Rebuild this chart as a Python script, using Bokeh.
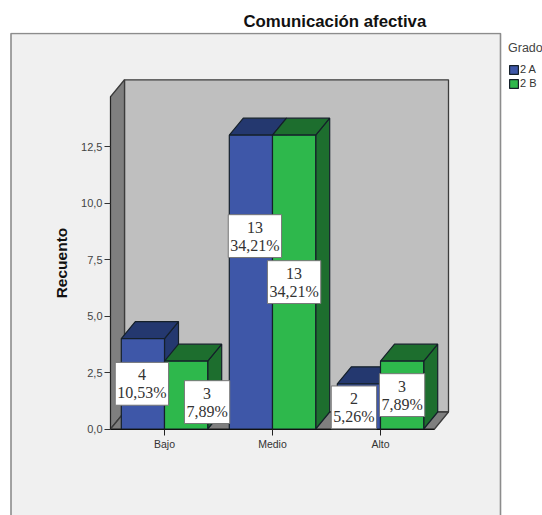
from bokeh.embed import file_html
from bokeh.resources import INLINE
from bokeh.plotting import figure
from bokeh.models import (Range1d, LinearAxis, FixedTicker, Label, Legend, LegendItem, Title)

title_text = "Comunicación afectiva"
y_title = "Recuento"
categories = ["Bajo", "Medio", "Alto"]
legend_title = "Grado"
series_names = ["2 A", "2 B"]
values_a = [4, 13, 2]
values_b = [3, 13, 3]
pct_a = ["10,53%", "34,21%", "5,26%"]
pct_b = ["7,89%", "34,21%", "7,89%"]
y_ticks = [0, 2.5, 5, 7.5, 10, 12.5]
y_tick_labels = ["0,0", "2,5", "5,0", "7,5", "10,0", "12,5"]

FONT = "Liberation Sans"
SERIF = "Liberation Serif"
BLUE, BLUE_D = "#3E57A8", "#24386F"
GREEN, GREEN_D = "#2EB84C", "#1D6E2E"
EDGE = "#15202a"

# page geometry (px)
W, H = 542, 515
TOP = 32
PX_X, PX_Y = 108.0, 22.6          # px per data unit
ORIGIN_X, ORIGIN_Y = 164.0, 428.5   # canvas px of the data origin
DX, DY = 14 / PX_X, 17 / PX_Y     # 3-D depth
BAR = 0.4
Y_TOP = 14.7
X0, X1 = -0.5, 2.5

x_range = Range1d(-ORIGIN_X / PX_X, (W - ORIGIN_X) / PX_X)
y_range = Range1d((ORIGIN_Y - H) / PX_Y, (ORIGIN_Y - TOP) / PX_Y)

p = figure(width=W, height=H, x_range=x_range, y_range=y_range, toolbar_location=None,
           output_backend="svg", x_axis_type=None, y_axis_type=None,
           min_border_left=0, min_border_right=0, min_border_bottom=0, min_border_top=TOP,
           outline_line_color=None, background_fill_color="white", border_fill_color="white")
p.grid.visible = False

p.title = Title(text=title_text, align="left", offset=243, text_font=FONT,
                text_font_size="16.8px", text_font_style="bold", text_color="#111111", standoff=3)

# outer chart box (its bottom runs past the page)
box_l = (10.5 - ORIGIN_X) / PX_X
box_r = (500 - ORIGIN_X) / PX_X
box_t = (ORIGIN_Y - 33) / PX_Y
box_b = (ORIGIN_Y - H - 20) / PX_Y
p.quad(left=[box_l], right=[box_r], top=[box_t], bottom=[box_b],
       fill_color="#F0F0F0", line_color="#8C8C8C", line_width=1.6)

# walls
wall = dict(line_color="#3c3c3c", line_width=1.3)
p.patch([X0 + DX, X1 + DX, X1 + DX, X0 + DX], [DY, DY, Y_TOP + DY, Y_TOP + DY],
        fill_color="#BFBFBF", **wall)
p.patch([X0, X0 + DX, X0 + DX, X0], [0, DY, Y_TOP + DY, Y_TOP],
        fill_color="#7F7F7F", **wall)
p.patch([X0, X1, X1 + DX, X0 + DX], [0, 0, DY, DY], fill_color="#7F7F7F", **wall)

fronts = []
for k, (vals, face, dark) in enumerate([(values_a, BLUE, BLUE_D), (values_b, GREEN, GREEN_D)]):
    lefts = [i - BAR + k * BAR for i in range(len(vals))]
    rights = [l + BAR for l in lefts]
    p.patches([[r, r + DX, r + DX, r] for r in rights],
              [[0, DY, v + DY, v] for v in vals],
              fill_color=dark, line_color=EDGE, line_width=1.2)
    p.patches([[l, r, r + DX, l + DX] for l, r in zip(lefts, rights)],
              [[v, v, v + DY, v + DY] for v in vals],
              fill_color=dark, line_color=EDGE, line_width=1.2)
    fronts.append(p.quad(left=lefts, right=rights, top=vals, bottom=[0] * len(vals),
                         fill_color=face, line_color=EDGE, line_width=1.2))

# axes
yaxis = LinearAxis(fixed_location=X0, ticker=FixedTicker(ticks=y_ticks), axis_label=y_title,
                   bounds=(0, Y_TOP),
                   major_label_overrides={t: s for t, s in zip(y_ticks, y_tick_labels)},
                   major_label_text_font=FONT, major_label_text_font_size="11px",
                   major_label_text_color="#444444", major_label_standoff=2,
                   axis_label_text_font=FONT, axis_label_text_font_size="15.5px",
                   axis_label_text_font_style="bold", axis_label_text_color="#111111",
                   axis_label_standoff=8,
                   major_tick_out=6, major_tick_in=0, minor_tick_out=0, minor_tick_in=0,
                   major_tick_line_color="#333333", axis_line_color="#222222")
p.add_layout(yaxis, "left")
xaxis = LinearAxis(fixed_location=0, ticker=FixedTicker(ticks=[0, 1, 2]), bounds=(X0, X1),
                   major_label_overrides={i: c for i, c in enumerate(categories)},
                   major_label_text_font=FONT, major_label_text_font_size="10.5px",
                   major_label_text_color="#333333", major_label_standoff=3,
                   major_tick_out=6, major_tick_in=0, minor_tick_out=0, minor_tick_in=0,
                   major_tick_line_color="#222222", axis_line_color="#111111", axis_line_width=1.2)
p.add_layout(xaxis, "below")

# data labels: px nudge from the bar's centre (right, down)
nudges_a = [(-1, 0), (4, -46), (-5, 1)]
nudges_b = [(21, 7), (0, 0), (0, 0)]
for k, (vals, pcts, nudges) in enumerate([(values_a, pct_a, nudges_a), (values_b, pct_b, nudges_b)]):
    for i, (v, t, (nx, ny)) in enumerate(zip(vals, pcts, nudges)):
        p.add_layout(Label(x=i - BAR / 2 + k * BAR, y=v / 2, x_offset=nx, y_offset=-ny,
                           text=f"{v}\n{t}", text_align="center", text_baseline="middle",
                           text_font=SERIF, text_font_size="16px", text_color="#333333",
                           text_line_height=1.05,
                           background_fill_color="white", border_line_color="#777777",
                           border_line_width=1, padding=(2, 4)))

legend = Legend(items=[LegendItem(label=n, renderers=[r]) for n, r in zip(series_names, fronts)],
                title=legend_title, location=(508, 426), orientation="vertical",
                title_text_font=FONT, title_text_font_size="12.5px", title_text_font_style="normal",
                title_text_color="#444444", title_standoff=8,
                label_text_font=FONT, label_text_font_size="11px", label_text_color="#333333",
                label_height=11, label_standoff=1, glyph_width=11, glyph_height=11, spacing=2,
                background_fill_alpha=0, border_line_color=None, padding=0, margin=0)
p.add_layout(legend, "center")

open("out.html", "w").write(file_html(p, INLINE))
